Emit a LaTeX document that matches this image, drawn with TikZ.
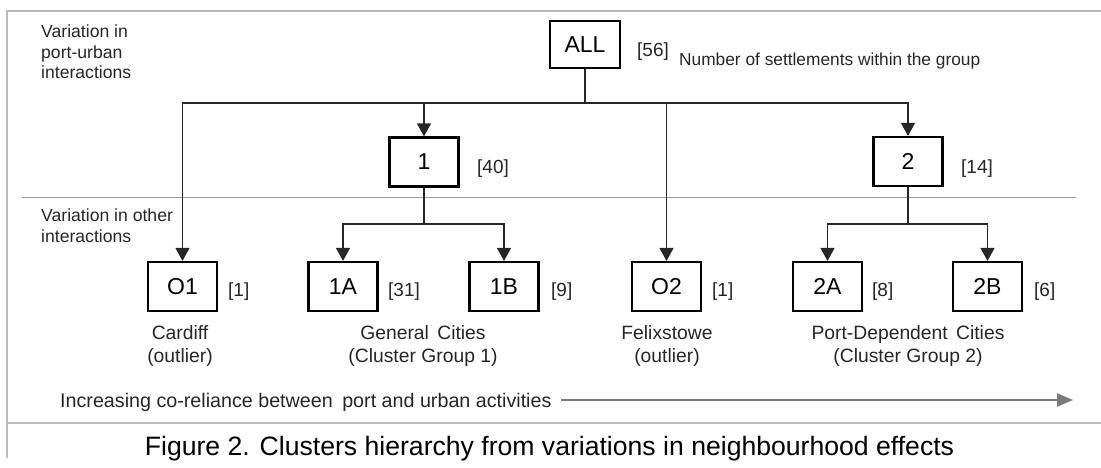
\documentclass[tikz,border=0pt]{standalone}
\usepackage{fontspec}
\setmainfont{Liberation Sans}
\usetikzlibrary{arrows.meta}
\begin{document}
\begin{tikzpicture}[x=1pt,y=-1pt,
  box/.style={draw=black, line width=2.2pt, minimum width=69pt, minimum height=49pt, inner sep=0pt, font=\fontsize{23}{26}\selectfont},
  conn/.style={line width=1.3pt, draw=black!85},
  arr/.style={conn, -{Triangle[length=13pt,width=14pt]}},
  cnt/.style={anchor=base west, inner sep=0pt, font=\fontsize{19}{22}\selectfont, text=black!85},
  lab/.style={anchor=north, inner sep=0pt, align=center, font=\fontsize{19.3}{23}\selectfont, text=black!85},
  side/.style={anchor=north west, inner sep=0pt, align=left, font=\fontsize{17.6}{20.5}\selectfont, text=black!85},
  frameline/.style={draw=black!27, line width=1.6pt},
  sepline/.style={draw=black!40, line width=1pt},
  trend/.style={draw=black!52, line width=2pt, -{Triangle[length=16pt,width=13pt]}}]
\useasboundingbox (0,0) rectangle (1101,468);

% frame
\draw[frameline] (1101,11) -- (7,11) -- (7,458);
\draw[frameline] (7,423) -- (1101,423);
\coordinate (sepL) at (22,198);
\coordinate (sepR) at (1076,198);
\draw[sepline] (sepL) -- (sepR);

% side texts
\node[side] (v1) at (41,25) {Variation in\\port-urban\\interactions};
\node[side] (v2) at (41,209) {Variation in other\\interactions};

% boxes
\node[box, minimum width=70pt, minimum height=47pt] (all) at (585,44.5) {ALL};
\node[box] (b1) at (424,162) {1};
\node[box] (b2) at (908,161.5) {2};
\node[box] (o1) at (182.5,286.5) {O1};
\node[box] (c1a) at (343,286.5) {1A};
\node[box] (c1b) at (504,286.5) {1B};
\node[box] (o2) at (666.5,286.5) {O2};
\node[box] (c2a) at (827.5,286.5) {2A};
\node[box] (c2b) at (987.5,286.5) {2B};

% counts
\node[cnt] (n56) at (637,56.5) {[56]};
\node[anchor=base west, inner sep=0pt, font=\fontsize{17.3}{20}\selectfont, text=black!85] (nlab) at (679,65.5) {Number of settlements within the group};
\node[cnt] (n40) at (477,174) {[40]};
\node[cnt] (n14) at (961,174) {[14]};
\node[cnt] (n1a) at (228,296) {[1]};
\node[cnt] (n31) at (388,296) {[31]};
\node[cnt] (n9) at (551,296) {[9]};
\node[cnt] (n1b) at (712,296) {[1]};
\node[cnt] (n8) at (872,296) {[8]};
\node[cnt] (n6) at (1034,296) {[6]};

% connectors
\coordinate (j0) at (585,103);
\coordinate (j1) at (424,224);
\coordinate (j2) at (908,224);
\draw[conn] (all.south) -- (j0);
\draw[arr] (j0) -| (o1.north);
\draw[arr] (j0) -| (b1.north);
\draw[arr] (j0) -| (o2.north);
\draw[arr] (j0) -| (b2.north);
\draw[conn] (b1.south) -- (j1);
\draw[arr] (j1) -| (c1a.north);
\draw[arr] (j1) -| (c1b.north);
\draw[conn] (b2.south) -- (j2);
\draw[arr] (j2) -| (c2a.north);
\draw[arr] (j2) -| (c2b.north);

% group labels
\node[lab] (l1) at (180,325) {Cardiff\\(outlier)};
\node[lab] (l2) at (423,325) {General\hspace{3pt} Cities\\(Cluster Group 1)};
\node[lab] (l3) at (667,325) {Felixstowe\\(outlier)};
\node[lab] (l4) at (908,325) {Port-Dependent\hspace{3pt} Cities\\(Cluster Group 2)};

% trend
\node[anchor=base west, inner sep=0pt, font=\fontsize{19.7}{22}\selectfont, text=black!85] (inc) at (60,407) {Increasing co-reliance between\hspace{4pt} port and urban activities};
\coordinate (astart) at (561,400);
\coordinate (aend) at (1073,400);
\draw[trend] (astart) -- (aend);

% caption
\node[anchor=base, inner sep=0pt, font=\fontsize{26.6}{30}\selectfont] (cap) at (549.5,455.5) {Figure 2. Clusters hierarchy from variations in neighbourhood effects};
\end{tikzpicture}
\end{document}
